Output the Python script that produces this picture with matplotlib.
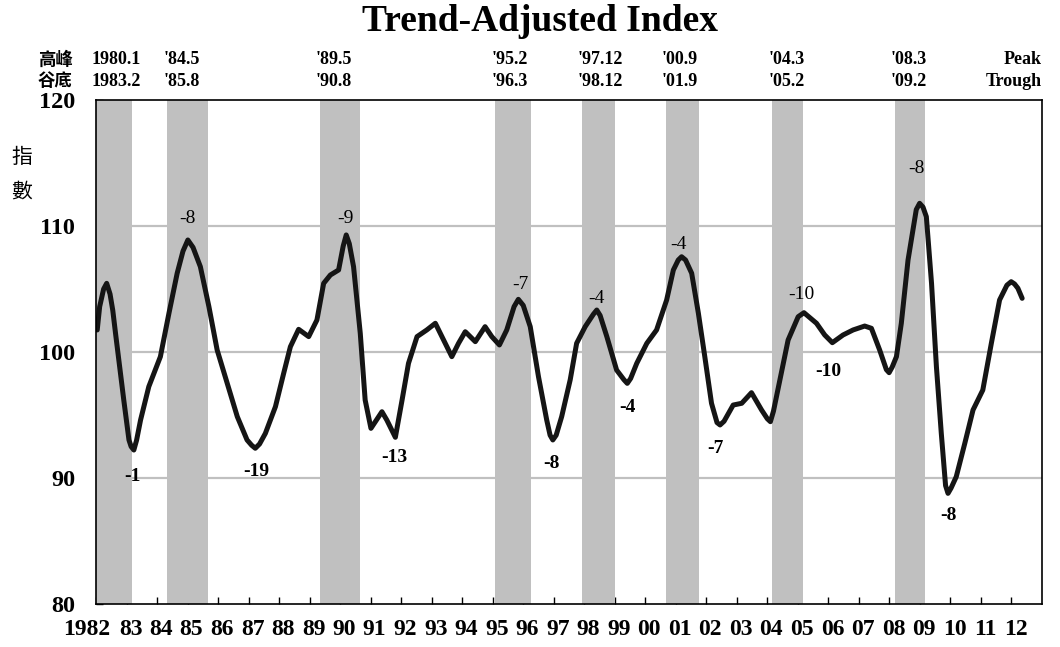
import matplotlib
matplotlib.use("Agg")
import matplotlib.pyplot as plt
import matplotlib.transforms as mtransforms
import numpy as np

# ---------------- data ----------------
years = [1982.04, 1982.12, 1982.25, 1982.35, 1982.46, 1982.55, 1982.64, 1982.91, 1983.08, 1983.15,
         1983.24, 1983.33, 1983.46, 1983.73, 1984.11, 1984.39, 1984.66, 1984.85, 1985.01, 1985.18,
         1985.42, 1985.70, 1985.97, 1986.30, 1986.63, 1986.95, 1987.10, 1987.22, 1987.36, 1987.55,
         1987.88, 1988.15, 1988.37, 1988.64, 1988.97, 1989.24, 1989.46, 1989.68, 1989.95, 1990.10,
         1990.20, 1990.30, 1990.44, 1990.66, 1990.82, 1991.01, 1991.37, 1991.53, 1991.81, 1992.03,
         1992.24, 1992.52, 1992.84, 1993.12, 1993.39, 1993.66, 1993.88, 1994.10, 1994.43, 1994.75,
         1994.97, 1995.22, 1995.46, 1995.70, 1995.84, 1996.00, 1996.23, 1996.50, 1996.77, 1996.88,
         1996.97, 1997.08, 1997.26, 1997.54, 1997.75, 1998.03, 1998.30, 1998.41, 1998.52, 1998.74,
         1999.06, 1999.30, 1999.41, 1999.52, 1999.72, 2000.05, 2000.37, 2000.70, 2000.92, 2001.08,
         2001.19, 2001.32, 2001.52, 2001.74, 2001.95, 2002.17, 2002.35, 2002.45, 2002.58, 2002.88,
         2003.16, 2003.48, 2003.81, 2004.00, 2004.10, 2004.20, 2004.41, 2004.68, 2005.01, 2005.20,
         2005.61, 2005.88, 2006.13, 2006.48, 2006.81, 2007.19, 2007.41, 2007.68, 2007.90, 2007.99,
         2008.09, 2008.23, 2008.39, 2008.61, 2008.88, 2008.99, 2009.10, 2009.21, 2009.38, 2009.54,
         2009.70, 2009.84, 2009.92, 2010.02, 2010.19, 2010.47, 2010.74, 2011.06, 2011.34, 2011.61,
         2011.85, 2011.99, 2012.10, 2012.21, 2012.35]
index_values = [101.75, 103.60, 105.00, 105.45, 104.60, 103.30, 101.48, 96.19, 93.02, 92.50,
                92.22, 93.00, 94.60, 97.25, 99.63, 103.07, 106.25, 108.00, 108.89, 108.30,
                106.77, 103.60, 100.16, 97.51, 94.87, 93.02, 92.60, 92.36, 92.70, 93.54,
                95.66, 98.31, 100.42, 101.80, 101.22, 102.54, 105.45, 106.11, 106.51, 108.40,
                109.29, 108.60, 106.77, 101.48, 96.19, 93.94, 95.26, 94.60, 93.23, 96.19,
                99.10, 101.22, 101.75, 102.28, 100.95, 99.63, 100.69, 101.61, 100.82, 102.01,
                101.22, 100.56, 101.75, 103.60, 104.18, 103.70, 102.01, 98.04, 94.60, 93.40,
                93.02, 93.40, 94.87, 97.80, 100.69, 102.01, 103.00, 103.33, 102.90, 101.22,
                98.57, 97.80, 97.51, 97.90, 99.10, 100.69, 101.75, 104.13, 106.51, 107.30,
                107.56, 107.30, 106.25, 103.07, 99.63, 95.93, 94.40, 94.21, 94.50, 95.79,
                95.93, 96.77, 95.40, 94.70, 94.47, 95.30, 97.78, 100.95, 102.80, 103.12,
                102.28, 101.35, 100.74, 101.35, 101.75, 102.06, 101.88, 100.16, 98.60, 98.36,
                98.80, 99.63, 102.28, 107.30, 111.30, 111.80, 111.50, 110.74, 105.45, 98.83,
                93.54, 89.40, 88.78, 89.20, 90.10, 92.75, 95.40, 96.98, 100.69, 104.13,
                105.30, 105.58, 105.40, 105.06, 104.26]

# business-cycle reference dates (peak -> trough)
peak_year = [1980, 1984, 1989, 1995, 1997, 2000, 2004, 2008]
peak_month = [1, 5, 5, 2, 12, 9, 3, 3]
trough_year = [1983, 1985, 1990, 1996, 1998, 2001, 2005, 2009]
trough_month = [2, 8, 8, 3, 12, 9, 2, 2]
peak_text = ["1980.1", "'84.5", "'89.5", "'95.2", "'97.12", "'00.9", "'04.3", "'08.3"]
trough_text = ["1983.2", "'85.8", "'90.8", "'96.3", "'98.12", "'01.9", "'05.2", "'09.2"]

# lead/lag annotations
peak_lead_text = ["-8", "-9", "-7", "-4", "-4", "-10", "-8"]
peak_lead_pos = [(1985.00, 110.56), (1990.17, 110.63), (1995.90, 105.32), (1998.39, 104.21),
                 (2001.07, 108.57), (2005.10, 104.60), (2008.89, 114.60)]
trough_lead_text = ["-1", "-19", "-13", "-8", "-4", "-7", "-10", "-8"]
trough_lead_pos = [(1983.20, 90.08), (1987.26, 90.48), (1991.77, 91.59), (1996.91, 91.19),
                   (1999.43, 95.63), (2002.31, 92.38), (2006.01, 98.49), (2009.94, 87.06)]

x_tick_years = list(range(1982, 2013))
x_tick_text = ["1982"] + ["%02d" % (y % 100) for y in range(1983, 2013)]
y_ticks = [80, 90, 100, 110, 120]

# ---------------- figure ----------------
SERIF = ["Liberation Serif", "DejaVu Serif"]
CJK = ["Noto Sans CJK TC", "DejaVu Sans"]
W, H = 1060, 647
fig = plt.figure(figsize=(W / 100, H / 100), dpi=100)
ax = fig.add_axes([96 / W, 1 - 604 / H, (1042 - 96) / W, (604 - 100) / H])

x_min, x_max = 1982.0, 2013.0
ax.set_xlim(x_min, x_max)
ax.set_ylim(80, 120)

# shaded recession bands
band_start = [max(x_min, y + (m - 1) / 12) for y, m in zip(peak_year, peak_month)]
band_end = [y + m / 12 for y, m in zip(trough_year, trough_month)]
for s, e in zip(band_start, band_end):
    ax.axvspan(s, e, color="#c0c0c0", lw=0, zorder=2)

# gridlines
for v in [90, 100, 110]:
    ax.axhline(v, color="#c0c0c0", lw=1.6, zorder=1)

# the index line
ax.plot(years, index_values, color="#151515", lw=3.6, solid_joinstyle="round",
        solid_capstyle="round", zorder=5)

# axes styling
for sp in ax.spines.values():
    sp.set_color("black")
    sp.set_linewidth(1.2)
    sp.set_zorder(6)

ax.set_yticks(y_ticks)
ax.set_yticklabels([str(v) for v in y_ticks], fontfamily=SERIF, fontweight="bold", fontsize=17.5)
ax.tick_params(axis="y", direction="in", length=5, width=1, pad=15)

ax.set_xticks(x_tick_years)
ax.set_xticklabels(x_tick_text, fontfamily=SERIF, fontweight="bold", fontsize=17)
ax.tick_params(axis="x", direction="in", length=5, width=1, pad=11)
for i, lab in enumerate(ax.get_xticklabels()):
    if i == 0:
        lab.set_horizontalalignment("right")
        off = mtransforms.ScaledTranslation(14 / 100, 0, fig.dpi_scale_trans)
    else:
        off = mtransforms.ScaledTranslation(4 / 100, 0, fig.dpi_scale_trans)
    lab.set_transform(lab.get_transform() + off)

# annotations
for t, (x, y) in zip(peak_lead_text, peak_lead_pos):
    ax.text(x, y, t, ha="center", va="center", fontfamily=SERIF, fontsize=14, zorder=7)
for t, (x, y) in zip(trough_lead_text, trough_lead_pos):
    ax.text(x, y, t, ha="center", va="center", fontfamily=SERIF, fontweight="bold",
            fontsize=14, zorder=7)

# header rows with peak / trough dates
hdr = mtransforms.blended_transform_factory(ax.transData, fig.transFigure)
hoff = mtransforms.ScaledTranslation(-4 / 100, 0, fig.dpi_scale_trans)
for s, pt, tt in zip(band_start, peak_text, trough_text):
    fig.text(s, 1 - 60 / H, pt, transform=hdr + hoff, ha="left", va="center",
             fontfamily=SERIF, fontweight="bold", fontsize=13)
    fig.text(s, 1 - 81 / H, tt, transform=hdr + hoff, ha="left", va="center",
             fontfamily=SERIF, fontweight="bold", fontsize=13)
fig.text(1042 / W, 1 - 60 / H, "Peak", ha="right", va="center",
         fontfamily=SERIF, fontweight="bold", fontsize=13)
fig.text(1042 / W, 1 - 81 / H, "Trough", ha="right", va="center",
         fontfamily=SERIF, fontweight="bold", fontsize=13)
fig.text(38 / W, 1 - 60 / H, "高峰", ha="left", va="center", fontfamily=CJK,
         fontweight="bold", fontsize=12.5)
fig.text(38 / W, 1 - 81 / H, "谷底", ha="left", va="center", fontfamily=CJK,
         fontweight="bold", fontsize=12.5)

# vertical y-axis label
fig.text(22 / W, 1 - 157 / H, "指", ha="center", va="center", fontfamily=CJK, fontsize=15)
fig.text(22 / W, 1 - 192 / H, "數", ha="center", va="center", fontfamily=CJK, fontsize=15)

# title
fig.text(540 / W, 1 - 31 / H, "Trend-Adjusted Index", ha="center", va="baseline",
         fontfamily=SERIF, fontweight="bold", fontsize=27)

fig.savefig("out.png", dpi=100)
